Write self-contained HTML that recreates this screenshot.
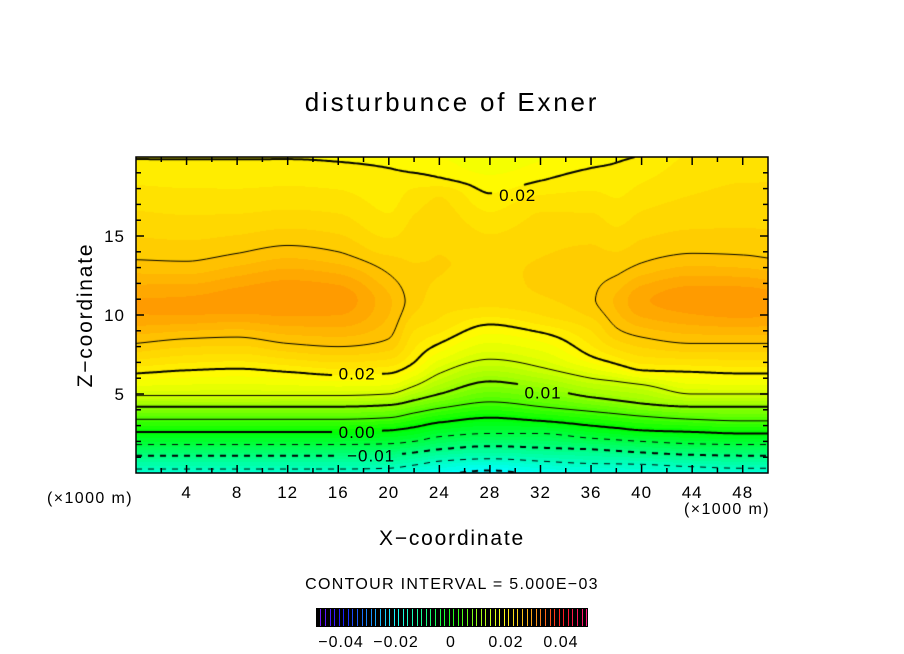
<!DOCTYPE html>
<html><head><meta charset="utf-8"><style>
body{margin:0;background:#fff;}
#wrap{position:relative;width:904px;height:654px;overflow:hidden;background:#fff;font-family:"Liberation Sans",sans-serif;color:#000;}
.t{position:absolute;white-space:nowrap;}
</style></head><body>
<div id="wrap">
<div class="t" style="left:0;width:904px;text-align:center;top:87px;font-size:26px;letter-spacing:2.8px;">disturbunce of Exner</div>
<canvas id="cv" width="632" height="316" style="position:absolute;left:136px;top:157px;"></canvas>
<svg id="ov" width="904" height="654" style="position:absolute;left:0;top:0;"></svg>
<div class="t" style="left:0;width:904px;text-align:center;top:527px;font-size:21px;letter-spacing:1.8px;">X−coordinate</div>
<div class="t" style="left:86px;top:315px;font-size:21px;letter-spacing:1.8px;transform:translate(-50%,-50%) rotate(-90deg);">Z−coordinate</div>
<div class="t" style="left:47px;top:490px;font-size:16px;letter-spacing:1.4px;">(×1000 m)</div>
<div class="t" style="left:684px;top:501px;font-size:16px;letter-spacing:1.4px;">(×1000 m)</div>
<div class="t" style="left:0;width:904px;text-align:center;top:576px;font-size:16px;letter-spacing:1.3px;">CONTOUR INTERVAL = 5.000E−03</div>
</div>
<script>
// ---- data ----
const colX=[0,4,8,12,16,20,22,24,28,32,36,38,40,44,48,50];
const colZ=[
[0,0.25,1.1,1.8,2.6,3.4,4.2,4.9,6.3,8.2,10.5,13.5,17,20],
[0,0.25,1.1,1.8,2.6,3.4,4.2,4.9,6.5,8.5,10.5,13.4,17,20],
[0,0.25,1.1,1.8,2.6,3.4,4.2,4.9,6.6,8.6,10.8,13.9,17,20],
[0,0.25,1.1,1.8,2.6,3.4,4.2,4.9,6.4,8.2,11,14.4,17,20],
[0,0.25,1.1,1.8,2.6,3.4,4.2,4.9,6.2,8.0,11,14.0,17,19.7,20],
[0,0.3,1.15,1.85,2.7,3.5,4.3,5.0,6.3,8.5,10.8,12.6,16,19.3,20],
[0,0.5,1.3,2.0,2.9,3.8,4.6,5.5,7.0,9,11,14,17.5,19,20],
[0,0.75,1.5,2.3,3.2,4.1,5.0,6.3,8.2,9.8,13,17.5,18.7,20],
[0,0.9,1.7,2.5,3.5,4.5,5.8,7.2,9.4,10.5,13,15.1,17.7,20],
[0,0.75,1.6,2.5,3.3,4.2,5.4,6.7,8.9,10,12,16.5,18.5,20],
[0,0.6,1.5,2.2,3.0,3.9,4.8,6.0,7.4,9,11,15,19.3,20],
[0,0.58,1.4,2.1,2.85,3.75,4.6,5.8,6.9,9.2,10.9,12.5,17,20],
[0,0.55,1.3,2.0,2.7,3.6,4.4,5.6,6.5,8.6,10.9,13.3,17,20],
[0,0.4,1.15,1.85,2.6,3.4,4.2,5.0,6.4,8.2,11,13.9,17,20],
[0,0.3,1.1,1.8,2.5,3.3,4.2,5.0,6.3,8.2,10.8,13.8,17,20],
[0,0.3,1.1,1.8,2.5,3.3,4.2,5.0,6.3,8.2,10.8,13.6,17,20]];
const colV=[
[-0.017,-0.015,-0.01,-0.005,0,0.005,0.01,0.015,0.02,0.025,0.029,0.025,0.0222,0.0199],
[-0.017,-0.015,-0.01,-0.005,0,0.005,0.01,0.015,0.02,0.025,0.0292,0.025,0.022,0.0199],
[-0.017,-0.015,-0.01,-0.005,0,0.005,0.01,0.015,0.02,0.025,0.0295,0.025,0.022,0.0199],
[-0.017,-0.015,-0.01,-0.005,0,0.005,0.01,0.015,0.02,0.025,0.0298,0.025,0.0222,0.0199],
[-0.017,-0.015,-0.01,-0.005,0,0.005,0.01,0.015,0.02,0.025,0.0295,0.025,0.022,0.02,0.0198],
[-0.017,-0.015,-0.01,-0.005,0,0.005,0.01,0.015,0.02,0.025,0.0265,0.025,0.0215,0.02,0.0195],
[-0.018,-0.015,-0.01,-0.005,0,0.005,0.01,0.015,0.02,0.0225,0.0243,0.0235,0.0218,0.02,0.0192],
[-0.019,-0.015,-0.01,-0.005,0,0.005,0.01,0.015,0.02,0.0225,0.0238,0.0225,0.02,0.0188],
[-0.0211,-0.015,-0.01,-0.005,0,0.005,0.01,0.015,0.02,0.0225,0.0235,0.0225,0.02,0.0175],
[-0.019,-0.015,-0.01,-0.005,0,0.005,0.01,0.015,0.02,0.0225,0.024,0.0225,0.02,0.0185],
[-0.018,-0.015,-0.01,-0.005,0,0.005,0.01,0.015,0.02,0.0225,0.0248,0.0235,0.02,0.0195],
[-0.0175,-0.015,-0.01,-0.005,0,0.005,0.01,0.015,0.02,0.025,0.0265,0.025,0.0215,0.0198],
[-0.0172,-0.015,-0.01,-0.005,0,0.005,0.01,0.015,0.02,0.025,0.0285,0.025,0.0222,0.0201],
[-0.017,-0.015,-0.01,-0.005,0,0.005,0.01,0.015,0.02,0.025,0.0295,0.025,0.0228,0.0215],
[-0.017,-0.015,-0.01,-0.005,0,0.005,0.01,0.015,0.02,0.025,0.0298,0.025,0.023,0.022],
[-0.017,-0.015,-0.01,-0.005,0,0.005,0.01,0.015,0.02,0.025,0.0295,0.025,0.023,0.022]];
const contourLevels=[-0.02,-0.015,-0.01,-0.005,0,0.005,0.01,0.015,0.02,0.025,0.03];
const labelTexts=["0.02","0.02","0.01","0.00","−0.01"];
const labelX=[30.2,17.5,32.2,17.5,18.6];
const labelZ=[17.6,6.3,5.1,2.6,1.1];
const xTickVals=[4,8,12,16,20,24,28,32,36,40,44,48];
const zTickVals=[5,10,15];
const cbTickVals=[-0.04,-0.02,0,0.02,0.04];
const cbTickText=["−0.04","−0.02","0","0.02","0.04"];
const hueAtV=[-0.05,-0.04,-0.02,0,0.01,0.02,0.025,0.03,0.04,0.05];
const hueVal=[270,240,180,120,85,57,47,35,0,-30];

// ---- axes ----
const X0=136,X1=768,Y0=157,Y1=473;
const sx=x=>X0+x*(X1-X0)/50;
const sz=z=>Y1-z*(Y1-Y0)/20;
const cbx=v=>451+v*2750;

// monotone-ish cubic Hermite interpolation through knots
function herm(xs,vs,x){const n=xs.length;
 if(x<=xs[0])return vs[0]; if(x>=xs[n-1])return vs[n-1];
 let k=1;while(x>xs[k])k++;
 const i=k-1,h=xs[k]-xs[i],t=(x-xs[i])/h;
 const d=j=>(vs[j+1]-vs[j])/(xs[j+1]-xs[j]);
 const tan=j=>{if(j===0)return d(0);if(j===n-1)return d(n-2);const a=d(j-1),b=d(j);if(a*b<=0)return 0;return 2/(1/a+1/b);};
 const m0=tan(i),m1=tan(k),t2=t*t,t3=t2*t;
 return (2*t3-3*t2+1)*vs[i]+(t3-2*t2+t)*h*m0+(-2*t3+3*t2)*vs[k]+(t3-t2)*h*m1;}
function field(x,z){const vals=colX.map((_,i)=>herm(colZ[i],colV[i],z));return herm(colX,vals,x);}

function hsl2rgb(h,s,l){h=((h%360)+360)%360;const c=(1-Math.abs(2*l-1))*s,x=c*(1-Math.abs((h/60)%2-1)),m=l-c/2;let r,g,b;
 if(h<60)[r,g,b]=[c,x,0];else if(h<120)[r,g,b]=[x,c,0];else if(h<180)[r,g,b]=[0,c,x];else if(h<240)[r,g,b]=[0,x,c];else if(h<300)[r,g,b]=[x,0,c];else[r,g,b]=[c,0,x];
 return[Math.round((r+m)*255),Math.round((g+m)*255),Math.round((b+m)*255)];}
function hueOf(v){if(v<=hueAtV[0])return hueVal[0];
 for(let k=1;k<hueAtV.length;k++){if(v<=hueAtV[k]){const t=(v-hueAtV[k-1])/(hueAtV[k]-hueAtV[k-1]);return hueVal[k-1]+t*(hueVal[k]-hueVal[k-1]);}}
 return hueVal[hueVal.length-1];}

// sampled grid (2px) then fill per pixel with bilinear on grid
const cv=document.getElementById('cv'),ctx=cv.getContext('2d');
const W=632,H=316,S=2,NX=W/S+1,NY=H/S+1,G=[];
for(let j=0;j<NY;j++){G.push([]);for(let i=0;i<NX;i++){G[j].push(field(i*S*50/(X1-X0),(H-j*S)*20/(Y1-Y0)));}}
const img=ctx.createImageData(W,H),STEP=0.00125;
for(let py=0;py<H;py++){const gy=(py+0.5)/S,j=Math.min(NY-2,Math.floor(gy)),ty=gy-j;
 for(let px=0;px<W;px++){const gx=(px+0.5)/S,i=Math.min(NX-2,Math.floor(gx)),tx=gx-i;
  const v=(G[j][i]*(1-tx)+G[j][i+1]*tx)*(1-ty)+(G[j+1][i]*(1-tx)+G[j+1][i+1]*tx)*ty;
  const b=Math.floor(v/STEP);const c=hsl2rgb(hueOf((b+0.5)*STEP),1,0.5);
  const o=(py*W+px)*4;img.data[o]=c[0];img.data[o+1]=c[1];img.data[o+2]=c[2];img.data[o+3]=255;}}
ctx.putImageData(img,0,0);

// label boxes (canvas coords)
const boxes=labelTexts.map((s,i)=>{const w=s.length*11+6;return[sx(labelX[i])-X0-w/2,sz(labelZ[i])-Y0-10,w,20];});
const inBox=(x,y)=>boxes.some(b=>x>b[0]&&x<b[0]+b[2]&&y>b[1]&&y<b[1]+b[3]);

// contours (marching squares)
contourLevels.forEach(L=>{
 const thick=Math.abs(Math.round(L*100)-L*100)<1e-6;
 ctx.lineWidth=thick?2:1;ctx.strokeStyle='#000';ctx.beginPath();
 for(let j=0;j<NY-1;j++)for(let i=0;i<NX-1;i++){
  const a=G[j][i],b=G[j][i+1],c=G[j+1][i+1],d=G[j+1][i];
  const x0=i*S,y0=j*S,pts=[];
  const e=(p,q,x1,y1,x2,y2)=>{if((p-L)*(q-L)<0){const t=(L-p)/(q-p);pts.push([x1+t*(x2-x1),y1+t*(y2-y1)]);}};
  e(a,b,x0,y0,x0+S,y0);e(b,c,x0+S,y0,x0+S,y0+S);e(d,c,x0,y0+S,x0+S,y0+S);e(a,d,x0,y0,x0,y0+S);
  for(let k=0;k+1<pts.length;k+=2){const mx=(pts[k][0]+pts[k+1][0])/2,my=(pts[k][1]+pts[k+1][1])/2;
   if(inBox(mx,my))continue; if(L<0&&Math.floor(mx/6)%2===1)continue;
   ctx.moveTo(pts[k][0],pts[k][1]);ctx.lineTo(pts[k+1][0],pts[k+1][1]);}
 }
 ctx.stroke();});

// SVG overlay
const NS='http://www.w3.org/2000/svg',ov=document.getElementById('ov');
function mk(t,at,txt){const e=document.createElementNS(NS,t);for(const k in at)e.setAttribute(k,at[k]);if(txt!==undefined)e.textContent=txt;ov.appendChild(e);return e;}
labelTexts.forEach((s,i)=>{const e=mk('text',{x:sx(labelX[i]),y:sz(labelZ[i])+6,'text-anchor':'middle','font-size':17,'letter-spacing':1,'font-family':'Liberation Sans, sans-serif'},s);
 
 });
const fr=mk('rect',{x:X0,y:Y0,width:X1-X0,height:Y1-Y0,fill:'none',stroke:'#000','stroke-width':1.5});


for(let x=2;x<50;x+=2){const maj=xTickVals.includes(x),l=maj?8:5;
 mk('line',{x1:sx(x),x2:sx(x),y1:Y1,y2:Y1-l,stroke:'#000','stroke-width':1.5});
 mk('line',{x1:sx(x),x2:sx(x),y1:Y0,y2:Y0+l,stroke:'#000','stroke-width':1.5});}
for(let z=1;z<20;z++){const maj=zTickVals.includes(z),l=maj?8:5;
 mk('line',{x1:X0,x2:X0+l,y1:sz(z),y2:sz(z),stroke:'#000','stroke-width':1.5});
 mk('line',{x1:X1,x2:X1-l,y1:sz(z),y2:sz(z),stroke:'#000','stroke-width':1.5});}
xTickVals.forEach(v=>{const e=mk('text',{x:sx(v),y:498,'text-anchor':'middle','font-size':17,'letter-spacing':1,'font-family':'Liberation Sans, sans-serif'},String(v));
 
 });
zTickVals.forEach(v=>{const e=mk('text',{x:125,y:sz(v)+6,'text-anchor':'end','font-size':17,'letter-spacing':1,'font-family':'Liberation Sans, sans-serif'},String(v));
 
 });
// colorbar
const cb=mk('rect',{x:316,y:608,width:272,height:19,fill:'#000'});


for(let k=0;k<60;k++){const v=-0.05+(k+0.5)*0.1/60;const c=hsl2rgb(hueOf(v),1,0.55);const x=Math.round(cbx(v))+0.5;
 if(x<317||x>587)continue;
 mk('line',{x1:x,x2:x,y1:609,y2:626,stroke:`rgb(${c[0]},${c[1]},${c[2]})`,'stroke-width':1});}
cbTickVals.forEach((v,i)=>{const e=mk('text',{x:cbx(v),y:647,'text-anchor':'middle','font-size':16,'letter-spacing':1,'font-family':'Liberation Sans, sans-serif'},cbTickText[i]);
 
 });
</script>
</body></html>
